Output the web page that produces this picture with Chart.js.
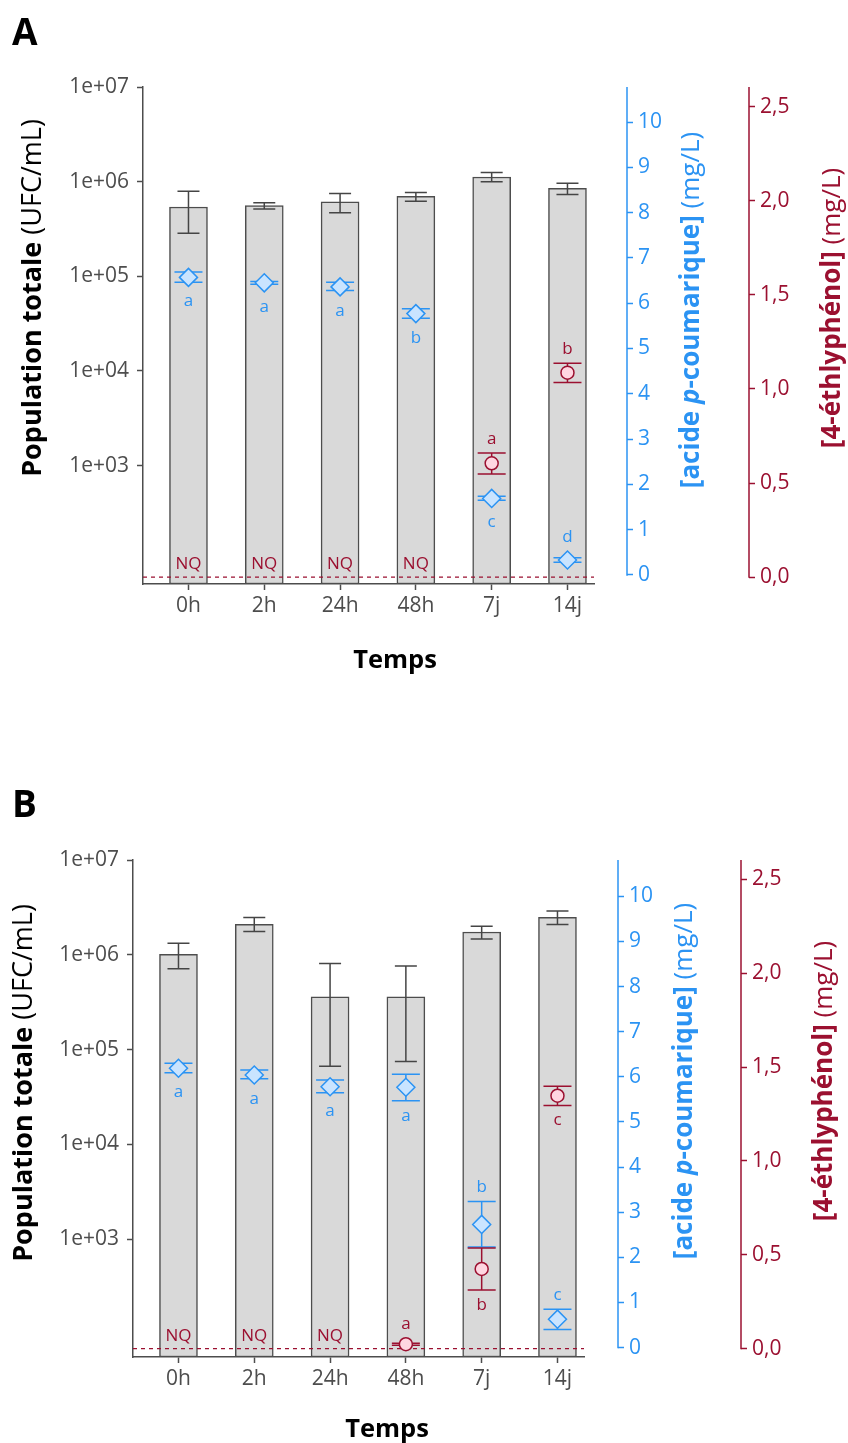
<!DOCTYPE html>
<html>
<head>
<meta charset="utf-8">
<script src="https://cdn.jsdelivr.net/npm/chart.js@4.4.1/dist/chart.umd.min.js"></script>
<style>
  html, body { margin: 0; padding: 0; background: #fff; }
  #wrap { position: relative; width: 848px; height: 1443px; }
  canvas { position: absolute; left: 0; }
  #cA { top: 0; }
  #cB { top: 720px; }
</style>
</head>
<body>
<div id="wrap">
  <canvas id="cA" width="848" height="720"></canvas>
  <canvas id="cB" width="848" height="723"></canvas>
</div>
<script>
// catégories et graduations
const categories = ['0h', '2h', '24h', '48h', '7j', '14j'];
const popTicks = [1e3, 1e4, 1e5, 1e6, 1e7];
const popTickLabels = ['1e+03', '1e+04', '1e+05', '1e+06', '1e+07'];
const pcaTicks = [0, 1, 2, 3, 4, 5, 6, 7, 8, 9, 10];
const pcaTickLabels = ['0', '1', '2', '3', '4', '5', '6', '7', '8', '9', '10'];
const epTicks = [0, 0.5, 1, 1.5, 2, 2.5];
const epTickLabels = ['0,0', '0,5', '1,0', '1,5', '2,0', '2,5'];
const epLimit = 0; // ligne pointillée (limite de quantification)

// Panneau A - population totale (UFC/mL)
const popA = [5.4e5, 5.6e5, 6.1e5, 7.0e5, 1.12e6, 8.5e5];
const popA_lo = [2.85e5, 5.15e5, 4.7e5, 6.2e5, 1.0e6, 7.3e5];
const popA_hi = [7.9e5, 6.0e5, 7.5e5, 7.7e5, 1.25e6, 9.6e5];
// Panneau A - acide p-coumarique (mg/L)
const pcaA = [6.57, 6.45, 6.36, 5.77, 1.69, 0.33];
const pcaA_lo = [6.46, 6.42, 6.28, 5.67, 1.65, 0.28];
const pcaA_hi = [6.69, 6.48, 6.46, 5.88, 1.74, 0.38];
const pcaA_letters = ['a', 'a', 'a', 'b', 'c', 'd'];
const pcaA_sides = ['below', 'below', 'below', 'below', 'below', 'above'];
// Panneau A - 4-éthylphénol (mg/L), null = NQ
const epA = [null, null, null, null, 0.605, 1.087];
const epA_lo = [null, null, null, null, 0.548, 1.034];
const epA_hi = [null, null, null, null, 0.66, 1.137];
const epA_letters = [null, null, null, null, 'a', 'b'];
const epA_sides = [null, null, null, null, 'above', 'above'];

// Panneau B
const popB = [1.01e6, 2.1e6, 3.6e5, 3.6e5, 1.74e6, 2.48e6];
const popB_lo = [7.1e5, 1.76e6, 6.65e4, 7.5e4, 1.47e6, 2.09e6];
const popB_hi = [1.32e6, 2.48e6, 8.1e5, 7.6e5, 2.0e6, 2.89e6];
const pcaB = [6.19, 6.04, 5.78, 5.77, 2.73, 0.63];
const pcaB_lo = [6.09, 5.96, 5.65, 5.47, 2.23, 0.40];
const pcaB_hi = [6.30, 6.15, 5.93, 6.06, 3.24, 0.85];
const pcaB_letters = ['a', 'a', 'a', 'a', 'b', 'c'];
const pcaB_sides = ['below', 'below', 'below', 'below', 'above', 'above'];
const epB = [null, null, null, 0.023, 0.424, 1.347];
const epB_lo = [null, null, null, 0.018, 0.312, 1.295];
const epB_hi = [null, null, null, 0.028, 0.536, 1.398];
const epB_letters = [null, null, null, 'a', 'b', 'c'];
const epB_sides = [null, null, null, 'above', 'below', 'below'];

const BLUE = '#2b93f3';
const RED = '#9b1030';
const GREY = '#4d4d4d';
const FONT = "'Open Sans', sans-serif";
Chart.defaults.font.family = FONT;

function drawErr(chart, axisId, vals, lo, hi, color, halfCap) {
  const ctx = chart.ctx, xs = chart.scales.x, ys = chart.scales[axisId];
  ctx.save();
  ctx.strokeStyle = color;
  ctx.lineWidth = 1.5;
  vals.forEach((v, i) => {
    if (v == null) return;
    const x = xs.getPixelForValue(i);
    const y1 = ys.getPixelForValue(lo[i]), y2 = ys.getPixelForValue(hi[i]);
    ctx.beginPath();
    ctx.moveTo(x, y1); ctx.lineTo(x, y2);
    ctx.moveTo(x - halfCap, y1); ctx.lineTo(x + halfCap, y1);
    ctx.moveTo(x - halfCap, y2); ctx.lineTo(x + halfCap, y2);
    ctx.stroke();
  });
  ctx.restore();
}

function drawLetters(chart, axisId, vals, lo, hi, letters, sides, color, r) {
  const ctx = chart.ctx, xs = chart.scales.x, ys = chart.scales[axisId];
  ctx.save();
  ctx.fillStyle = color;
  ctx.font = '17px ' + FONT;
  ctx.textAlign = 'center';
  ctx.textBaseline = 'alphabetic';
  vals.forEach((v, i) => {
    if (v == null || !letters[i]) return;
    const x = xs.getPixelForValue(i);
    const yv = ys.getPixelForValue(v);
    let y;
    if (sides[i] === 'above') y = Math.min(ys.getPixelForValue(hi[i]), yv - r) - 9;
    else y = Math.max(ys.getPixelForValue(lo[i]), yv + r) + 20;
    ctx.fillText(letters[i], x, y);
  });
  ctx.restore();
}

function drawRich(ctx, parts, cx, cy, color) {
  ctx.save();
  ctx.translate(cx, cy);
  ctx.rotate(-Math.PI / 2);
  ctx.fillStyle = color;
  ctx.textBaseline = 'middle';
  ctx.textAlign = 'left';
  const widths = parts.map(p => { ctx.font = p.font; return ctx.measureText(p.text).width; });
  let x = -widths.reduce((a, b) => a + b, 0) / 2;
  parts.forEach((p, i) => { ctx.font = p.font; ctx.fillText(p.text, x, 0); x += widths[i]; });
  ctx.restore();
}

function makeDeco(d, L) {
  return {
    id: 'deco' + d.name,
    beforeDatasetDraw(chart, args) {
      if (args.index === 1) drawErr(chart, 'blue', d.pca, d.pcaLo, d.pcaHi, BLUE, 14);
      if (args.index === 2) drawErr(chart, 'red', d.ep, d.epLo, d.epHi, RED, 14);
    },
    afterDatasetDraw(chart, args) {
      if (args.index !== 0) return;
      drawErr(chart, 'y', d.pop, d.popLo, d.popHi, '#454545', 11);
      // ligne pointillée
      const ctx = chart.ctx, a = chart.chartArea;
      const y = chart.scales.red.getPixelForValue(epLimit);
      ctx.save();
      ctx.strokeStyle = RED;
      ctx.lineWidth = 1.2;
      ctx.setLineDash([4, 4]);
      ctx.beginPath(); ctx.moveTo(a.left, y); ctx.lineTo(a.right, y); ctx.stroke();
      ctx.restore();
    },
    afterDraw(chart) {
      const ctx = chart.ctx, a = chart.chartArea;
      // lignes des axes secondaires (de 0 jusqu'en haut)
      [['blue', BLUE], ['red', RED]].forEach(([id, col]) => {
        const s = chart.scales[id];
        ctx.save();
        ctx.strokeStyle = col;
        ctx.lineWidth = 1.5;
        ctx.beginPath();
        ctx.moveTo(s.left, a.top);
        ctx.lineTo(s.left, s.getPixelForValue(0) + 0.75);
        ctx.stroke();
        ctx.restore();
      });
      drawLetters(chart, 'blue', d.pca, d.pcaLo, d.pcaHi, d.pcaLetters, d.pcaSides, BLUE, 9);
      drawLetters(chart, 'red', d.ep, d.epLo, d.epHi, d.epLetters, d.epSides, RED, 6.5);
      // NQ
      ctx.save();
      ctx.fillStyle = RED;
      ctx.font = '17px ' + FONT;
      ctx.textAlign = 'center';
      const yNq = chart.scales.red.getPixelForValue(0) - 8;
      d.ep.forEach((v, i) => { if (v == null) ctx.fillText('NQ', chart.scales.x.getPixelForValue(i), yNq); });
      // titre de l'axe x
      ctx.fillStyle = '#000';
      ctx.font = 'bold 25.5px ' + FONT;
      ctx.fillText('Temps', L.xTitleX, L.xTitleY);
      // lettre du panneau
      ctx.textAlign = 'left';
      ctx.font = 'bold 37px ' + FONT;
      ctx.fillText(d.name, 12, L.tagY);
      ctx.restore();
      drawRich(ctx, [
        { text: 'Population totale', font: 'bold 27px ' + FONT },
        { text: ' (UFC/mL)', font: '27px ' + FONT }
      ], L.leftTitleX, L.leftTitleY, '#000');
      drawRich(ctx, [
        { text: '[acide ', font: 'bold 26px ' + FONT },
        { text: 'p', font: 'italic bold 26px ' + FONT },
        { text: '-coumarique]', font: 'bold 26px ' + FONT },
        { text: ' (mg/L)', font: '26px ' + FONT }
      ], L.blueTitleX, L.blueTitleY, BLUE);
      drawRich(ctx, [
        { text: '[4-éthlyphénol]', font: 'bold 26px ' + FONT },
        { text: ' (mg/L)', font: '26px ' + FONT }
      ], L.redTitleX, L.redTitleY, RED);
    }
  };
}

function fixedTicks(values) {
  return (s) => { s.ticks = values.map(v => ({ value: v })); };
}

function makePanel(canvasId, d, L) {
  const ctx = document.getElementById(canvasId).getContext('2d');
  const tickGrid = (col) => ({
    display: true, drawOnChartArea: false, drawTicks: true,
    tickLength: 6, tickColor: col, tickWidth: 1.5, offset: false
  });
  return new Chart(ctx, {
    type: 'bar',
    data: {
      datasets: [
        {
          type: 'bar',
          data: d.pop.map((v, i) => ({ x: i, y: v })),
          yAxisID: 'y',
          backgroundColor: '#d9d9d9',
          borderColor: GREY,
          borderWidth: 1.5,
          borderSkipped: false,
          barThickness: 38,
          order: 3
        },
        {
          type: 'line',
          data: d.pca.map((v, i) => ({ x: i, y: v })),
          yAxisID: 'blue',
          showLine: false,
          pointStyle: 'rectRot',
          pointRadius: 9,
          pointBackgroundColor: '#c9e4ff',
          pointBorderColor: BLUE,
          pointBorderWidth: 1.5,
          order: 2
        },
        {
          type: 'line',
          data: d.ep.map((v, i) => ({ x: i, y: v })),
          yAxisID: 'red',
          showLine: false,
          pointStyle: 'circle',
          pointRadius: 6.5,
          pointBackgroundColor: '#ffd6e1',
          pointBorderColor: RED,
          pointBorderWidth: 1.5,
          order: 1
        }
      ]
    },
    options: {
      responsive: false,
      animation: false,
      devicePixelRatio: 1,
      layout: { padding: { top: L.top, left: 0, right: 0, bottom: 0 } },
      plugins: { legend: { display: false }, tooltip: { enabled: false } },
      scales: {
        x: {
          type: 'linear', position: 'bottom', min: -0.6, max: 5.35, offset: false,
          afterBuildTicks: fixedTicks(categories.map((c, i) => i)),
          afterFit: (s) => { s.height = L.xh; },
          ticks: {
            callback: (v, i) => categories[i], color: GREY, font: { size: 21 },
            padding: 3, maxRotation: 0, autoSkip: false
          },
          grid: tickGrid(GREY),
          border: { display: true, color: GREY, width: 1.5 }
        },
        y: {
          type: 'logarithmic', position: 'left', min: L.popMin, max: 1e7,
          afterBuildTicks: fixedTicks(popTicks),
          afterFit: (s) => { s.width = L.left; },
          ticks: { callback: (v, i) => popTickLabels[i], color: GREY, font: { size: 21 }, padding: 8, autoSkip: false },
          grid: tickGrid(GREY),
          border: { display: true, color: GREY, width: 1.5 }
        },
        gap: {
          type: 'linear', position: 'right', weight: 0, display: true,
          grid: { display: false }, border: { display: false }, ticks: { display: false },
          afterFit: (s) => { s.width = L.gap; }
        },
        blue: {
          type: 'linear', position: 'right', weight: 1, min: L.blueMin, max: L.blueMax,
          afterBuildTicks: fixedTicks(pcaTicks),
          afterFit: (s) => { s.width = L.blueW; },
          ticks: { callback: (v, i) => pcaTickLabels[i], color: BLUE, font: { size: 21 }, padding: 5, autoSkip: false },
          grid: tickGrid(BLUE),
          border: { display: false }
        },
        red: {
          type: 'linear', position: 'right', weight: 2, min: L.redMin, max: L.redMax,
          afterBuildTicks: fixedTicks(epTicks),
          afterFit: (s) => { s.width = L.redW; },
          ticks: { callback: (v, i) => epTickLabels[i], color: RED, font: { size: 21 }, padding: 5, autoSkip: false },
          grid: tickGrid(RED),
          border: { display: false }
        }
      }
    },
    plugins: [makeDeco(d, L)]
  });
}

makePanel('cA', {
  name: 'A',
  pop: popA, popLo: popA_lo, popHi: popA_hi,
  pca: pcaA, pcaLo: pcaA_lo, pcaHi: pcaA_hi, pcaLetters: pcaA_letters, pcaSides: pcaA_sides,
  ep: epA, epLo: epA_lo, epHi: epA_hi, epLetters: epA_letters, epSides: epA_sides
}, {
  top: 87, xh: 136, left: 143, gap: 33, blueW: 122, redW: 99,
  popMin: 56, blueMin: -0.199, blueMax: 10.773, redMin: -0.037, redMax: 2.606,
  xTitleX: 395, xTitleY: 668, tagY: 45,
  leftTitleX: 33, leftTitleY: 298, blueTitleX: 692, blueTitleY: 310, redTitleX: 833, redTitleY: 308
});

makePanel('cB', {
  name: 'B',
  pop: popB, popLo: popB_lo, popHi: popB_hi,
  pca: pcaB, pcaLo: pcaB_lo, pcaHi: pcaB_hi, pcaLetters: pcaB_letters, pcaSides: pcaB_sides,
  ep: epB, epLo: epB_lo, epHi: epB_hi, epLetters: epB_letters, epSides: epB_sides
}, {
  top: 140, xh: 86, left: 133, gap: 34, blueW: 123, redW: 107,
  popMin: 57, blueMin: -0.208, blueMax: 10.805, redMin: -0.045, redMax: 2.603,
  xTitleX: 387, xTitleY: 717, tagY: 97,
  leftTitleX: 24, leftTitleY: 363, blueTitleX: 685, blueTitleY: 361, redTitleX: 825, redTitleY: 361
});
</script>
</body>
</html>
